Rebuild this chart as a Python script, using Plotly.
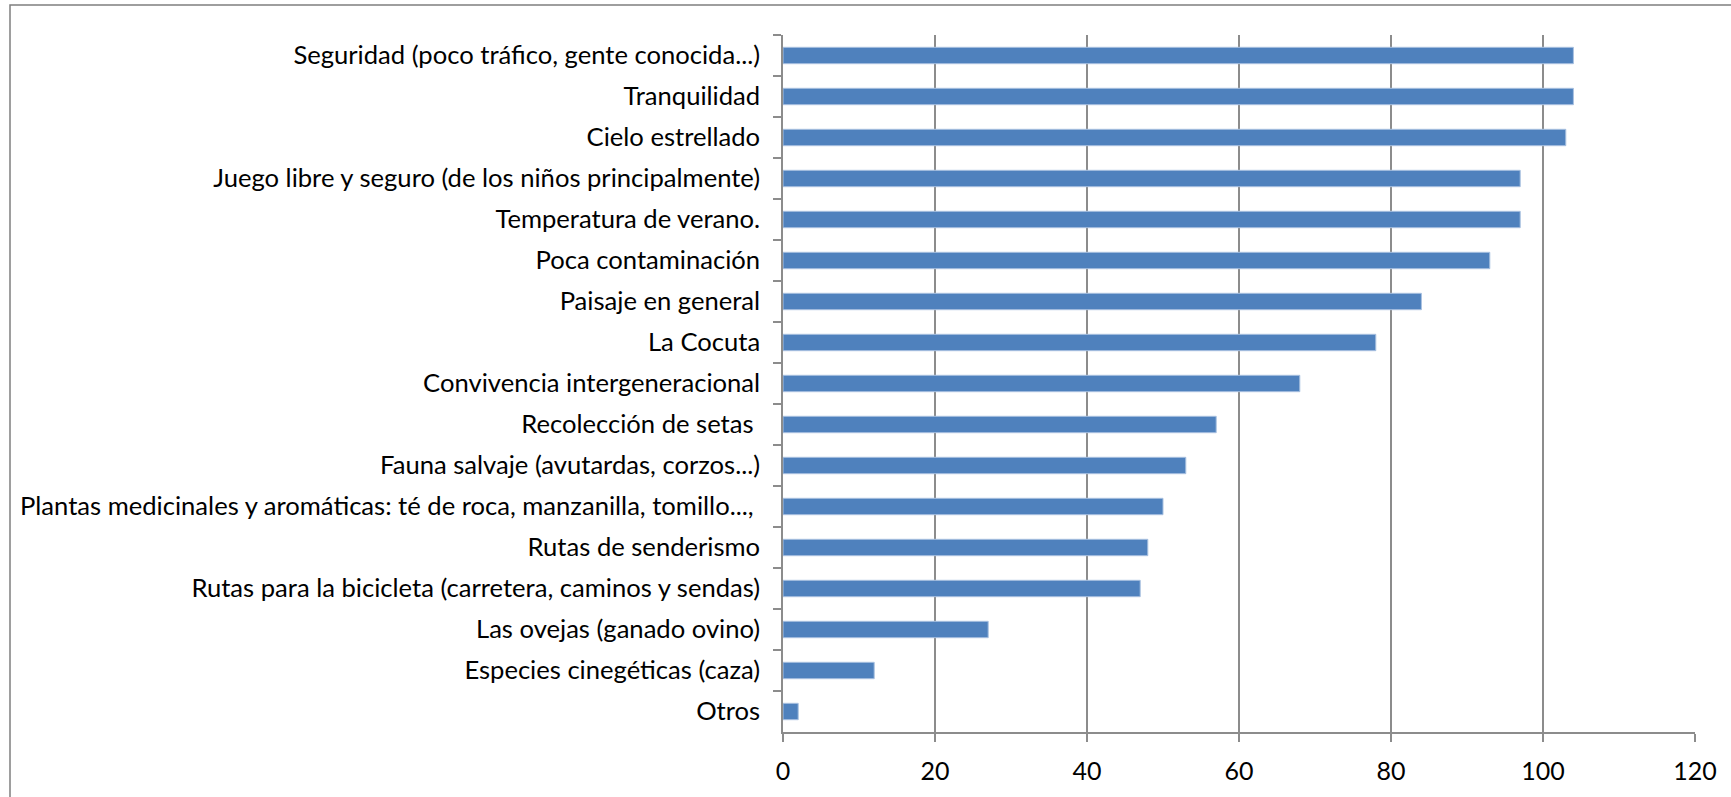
import plotly.graph_objects as go

categories = [
    "Seguridad (poco tráfico, gente conocida...)",
    "Tranquilidad",
    "Cielo estrellado",
    "Juego libre y seguro (de los niños principalmente)",
    "Temperatura de verano.",
    "Poca contaminación",
    "Paisaje en general",
    "La Cocuta",
    "Convivencia intergeneracional",
    "Recolección de setas\u00a0",
    "Fauna salvaje (avutardas, corzos...)",
    "Plantas medicinales y aromáticas: té de roca, manzanilla, tomillo...,\u00a0",
    "Rutas de senderismo",
    "Rutas para la bicicleta (carretera, caminos y sendas)",
    "Las ovejas (ganado ovino)",
    "Especies cinegéticas (caza)",
    "Otros",
]
values = [104, 104, 103, 97, 97, 93, 84, 78, 68, 57, 53, 50, 48, 47, 27, 12, 2]
x_ticks = [0, 20, 40, 60, 80, 100, 120]

W, H = 1731, 797
L, R, T, B = 783, 36, 35, 65
pw, ph = W - L - R, H - T - B

fig = go.Figure(go.Bar(
    x=values, y=categories, orientation="h",
    marker=dict(color="#4F81BD", line=dict(color="#A9C1E0", width=1)),
    hoverinfo="x+y",
))

yfont = dict(family="Lato, sans-serif", size=25.6, color="#000000")
xfont = dict(family="Lato, sans-serif", size=25, color="#000000")

fig.update_layout(
    width=W, height=H,
    margin=dict(l=L, r=R, t=T, b=B, pad=0, autoexpand=False),
    paper_bgcolor="white", plot_bgcolor="white",
    bargap=0.6, showlegend=False, font=yfont,
    xaxis=dict(
        range=[0, 120], tickvals=x_ticks, ticktext=[str(v) for v in x_ticks],
        showgrid=True, gridcolor="#8C8C8C", gridwidth=1.5,
        showline=True, linecolor="#8C8C8C", linewidth=1.5,
        ticks="outside", ticklen=8, tickcolor="#8C8C8C", tickwidth=1.5,
        zeroline=False, tickfont=xfont, ticklabelstandoff=8, automargin=False,
    ),
    yaxis=dict(
        type="category", autorange="reversed",
        showgrid=False, showline=True, linecolor="#8C8C8C", linewidth=1.5,
        ticks="outside", ticklen=8, tickcolor="#8C8C8C", tickwidth=1.5,
        tickson="boundaries", tickfont=yfont, ticklabelstandoff=16, automargin=False,
    ),
    shapes=[dict(
        type="rect", xref="paper", yref="paper",
        x0=(10 - L) / pw, x1=(W + 20 - L) / pw,
        y0=-(B + 20) / ph, y1=1 + (T - 5) / ph,
        line=dict(color="#7F7F7F", width=1.5), fillcolor="rgba(0,0,0,0)", layer="below",
    )],
)

fig.write_html(
    "out.html",
    config={"displayModeBar": False},
    post_script="document.body.style.margin='0';document.body.style.overflow='hidden';",
)
